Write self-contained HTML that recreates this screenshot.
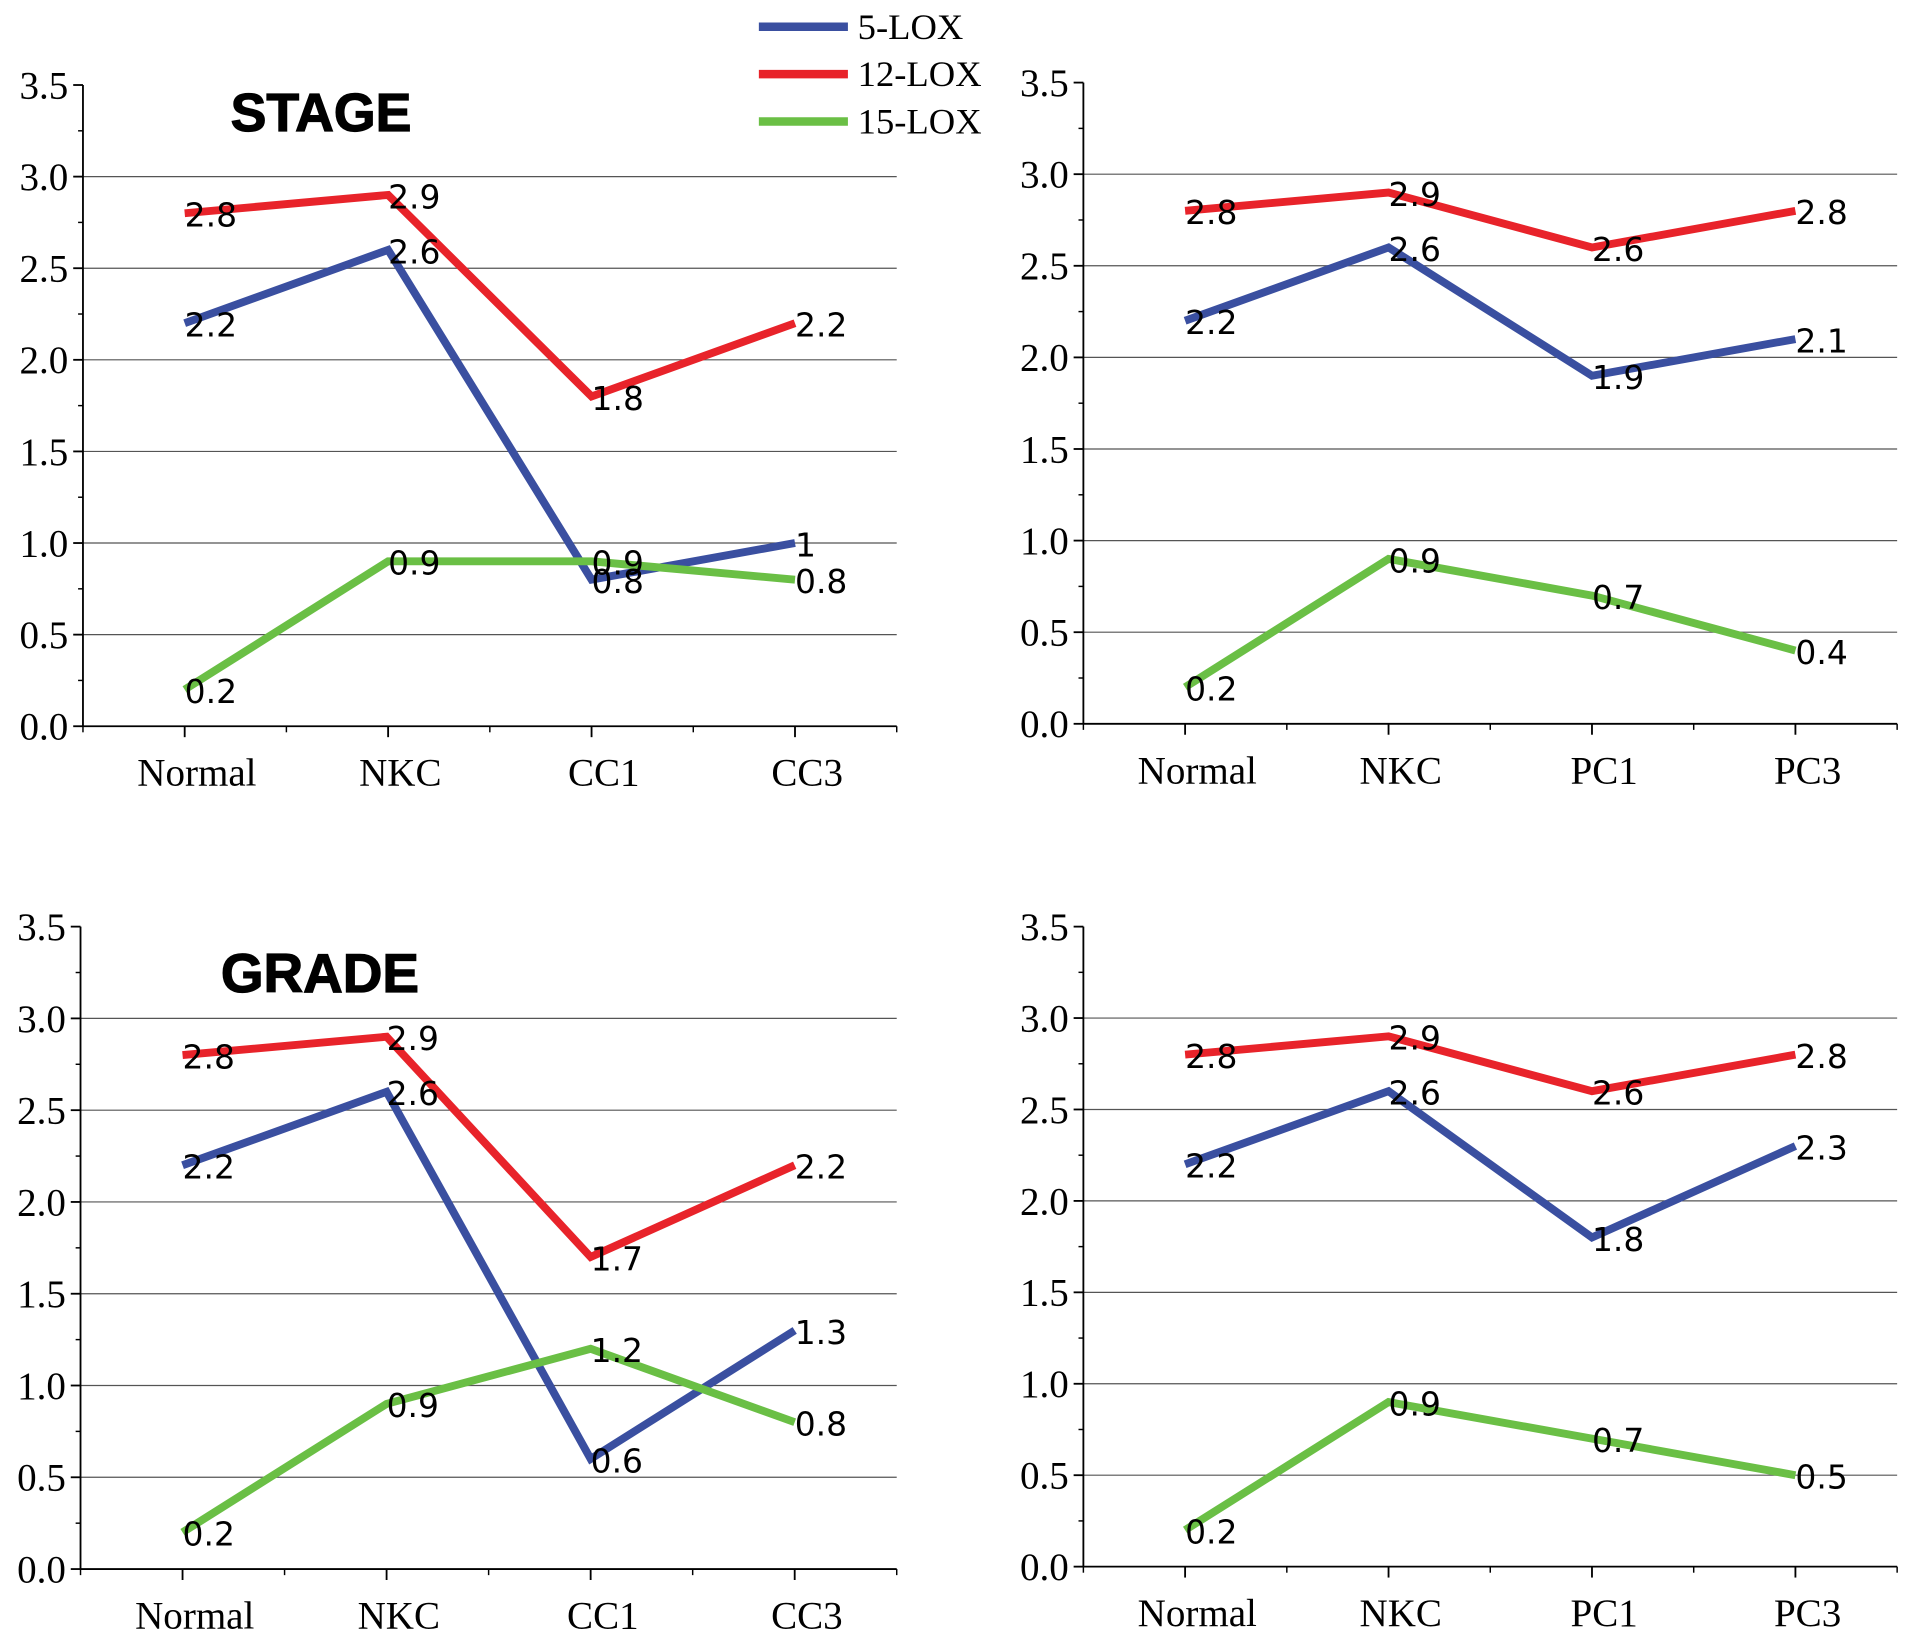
<!DOCTYPE html>
<html><head><meta charset="utf-8"><style>
html,body{margin:0;padding:0;background:#fff;}
svg{display:block;}
</style></head><body>
<svg id="fig" width="1913" height="1648" viewBox="0 0 1568 1357" preserveAspectRatio="none" xmlns="http://www.w3.org/2000/svg">
<g>
  <line x1="622" y1="22" x2="695" y2="22" stroke="#3a4fa0" stroke-width="7"/>
  <text x="703" y="32" font-family="Liberation Serif, serif" font-size="30">5-LOX</text>
  <line x1="622" y1="61" x2="695" y2="61" stroke="#e8232a" stroke-width="7"/>
  <text x="703" y="71" font-family="Liberation Serif, serif" font-size="30">12-LOX</text>
  <line x1="622" y1="100" x2="695" y2="100" stroke="#6abf45" stroke-width="7"/>
  <text x="703" y="110" font-family="Liberation Serif, serif" font-size="30">15-LOX</text>
</g>
<text x="189" y="108" font-family="Liberation Sans, sans-serif" font-weight="bold" font-size="44" stroke="#000" stroke-width="1">STAGE</text>
<text x="181" y="817" font-family="Liberation Sans, sans-serif" font-weight="bold" font-size="45" stroke="#000" stroke-width="1">GRADE</text>
</svg>
<script>
const tickLabels = ["0.0","0.5","1.0","1.5","2.0","2.5","3.0","3.5"];
const catsCC = ["Normal","NKC","CC1","CC3"];
const catsPC = ["Normal","NKC","PC1","PC3"];
const stageCC5 = [2.2,2.6,0.8,1.0];
const stageCC12 = [2.8,2.9,1.8,2.2];
const stageCC15 = [0.2,0.9,0.9,0.8];
const stagePC5 = [2.2,2.6,1.9,2.1];
const stagePC12 = [2.8,2.9,2.6,2.8];
const stagePC15 = [0.2,0.9,0.7,0.4];
const gradeCC5 = [2.2,2.6,0.6,1.3];
const gradeCC12 = [2.8,2.9,1.7,2.2];
const gradeCC15 = [0.2,0.9,1.2,0.8];
const gradePC5 = [2.2,2.6,1.8,2.3];
const gradePC12 = [2.8,2.9,2.6,2.8];
const gradePC15 = [0.2,0.9,0.7,0.5];

const NS = "http://www.w3.org/2000/svg";
const svg = document.getElementById('fig');
function mk(tag, attrs, parent){
  const e = document.createElementNS(NS, tag);
  for (const k in attrs) e.setAttribute(k, attrs[k]);
  parent.appendChild(e); return e;
}
const colors = ["#3a4fa0","#e8232a","#6abf45"];
const names = ["5-lox","12-lox","15-lox"];
function panel(id, ax, top, bottom, right, cats, series){
  const g = mk('g', {}, svg);
  
  
  const yMax = 3.5;
  const y = v => bottom - (v / yMax) * (bottom - top);
  const step = (right - ax) / cats.length;
  const x = i => ax + step * (i + 0.5);
  for (let i = 1; i < tickLabels.length - 1; i++) {
    const v = parseFloat(tickLabels[i]);
    const l = mk('line', {x1: ax, x2: right, y1: y(v), y2: y(v), stroke: '#555', 'stroke-width': 1}, g);
    
    
  }
  for (let i = 0; i < tickLabels.length; i++) {
    const v = parseFloat(tickLabels[i]);
    mk('line', {x1: ax - 8, x2: ax, y1: y(v), y2: y(v), stroke: '#000', 'stroke-width': 1.5}, g);
    if (i < tickLabels.length - 1) mk('line', {x1: ax - 4, x2: ax, y1: y(v + 0.25), y2: y(v + 0.25), stroke: '#000', 'stroke-width': 1.2}, g);
    const t = mk('text', {x: ax - 12, y: y(v) + 11, 'text-anchor': 'end', 'font-family': 'Liberation Serif, serif', 'font-size': 32}, g);
    t.textContent = tickLabels[i];
    
    
  }
  mk('line', {x1: ax, x2: ax, y1: top, y2: bottom, stroke: '#000', 'stroke-width': 1.5}, g);
  mk('line', {x1: ax, x2: right, y1: bottom, y2: bottom, stroke: '#000', 'stroke-width': 1.5}, g);
  for (let i = 0; i <= cats.length; i++) {
    mk('line', {x1: ax + step * i, x2: ax + step * i, y1: bottom, y2: bottom + 5, stroke: '#000', 'stroke-width': 1.2}, g);
  }
  cats.forEach((c, i) => {
    mk('line', {x1: x(i), x2: x(i), y1: bottom, y2: bottom + 9, stroke: '#000', 'stroke-width': 1.5}, g);
    const t = mk('text', {x: x(i) + 10, y: bottom + 49, 'text-anchor': 'middle', 'font-family': 'Liberation Serif, serif', 'font-size': 32}, g);
    t.textContent = c;
    
    
  });
  series.forEach((vals, s) => {
    const pts = vals.map((v, i) => x(i) + ',' + y(v)).join(' ');
    const pl = mk('polyline', {points: pts, fill: 'none', stroke: colors[s], 'stroke-width': 6.5, 'stroke-linejoin': 'miter'}, g);
    
    
  });
  series.forEach((vals, s) => {
    vals.forEach((v, i) => {
      const t = mk('text', {x: x(i) + 0, y: y(v) + 11, 'font-family': 'DejaVu Sans, sans-serif', 'font-size': 27}, g);
      t.textContent = (v === 1 ? '1' : v.toFixed(1));
      
      
    });
  });
}
panel('stage-cc-chart', 68, 70, 598, 735, catsCC, [stageCC5, stageCC12, stageCC15]);
panel('stage-pc-chart', 888, 68, 596, 1555, catsPC, [stagePC5, stagePC12, stagePC15]);
panel('grade-cc-chart', 66, 763, 1292, 735, catsCC, [gradeCC5, gradeCC12, gradeCC15]);
panel('grade-pc-chart', 888, 763, 1290, 1555, catsPC, [gradePC5, gradePC12, gradePC15]);
</script>
</body></html>
